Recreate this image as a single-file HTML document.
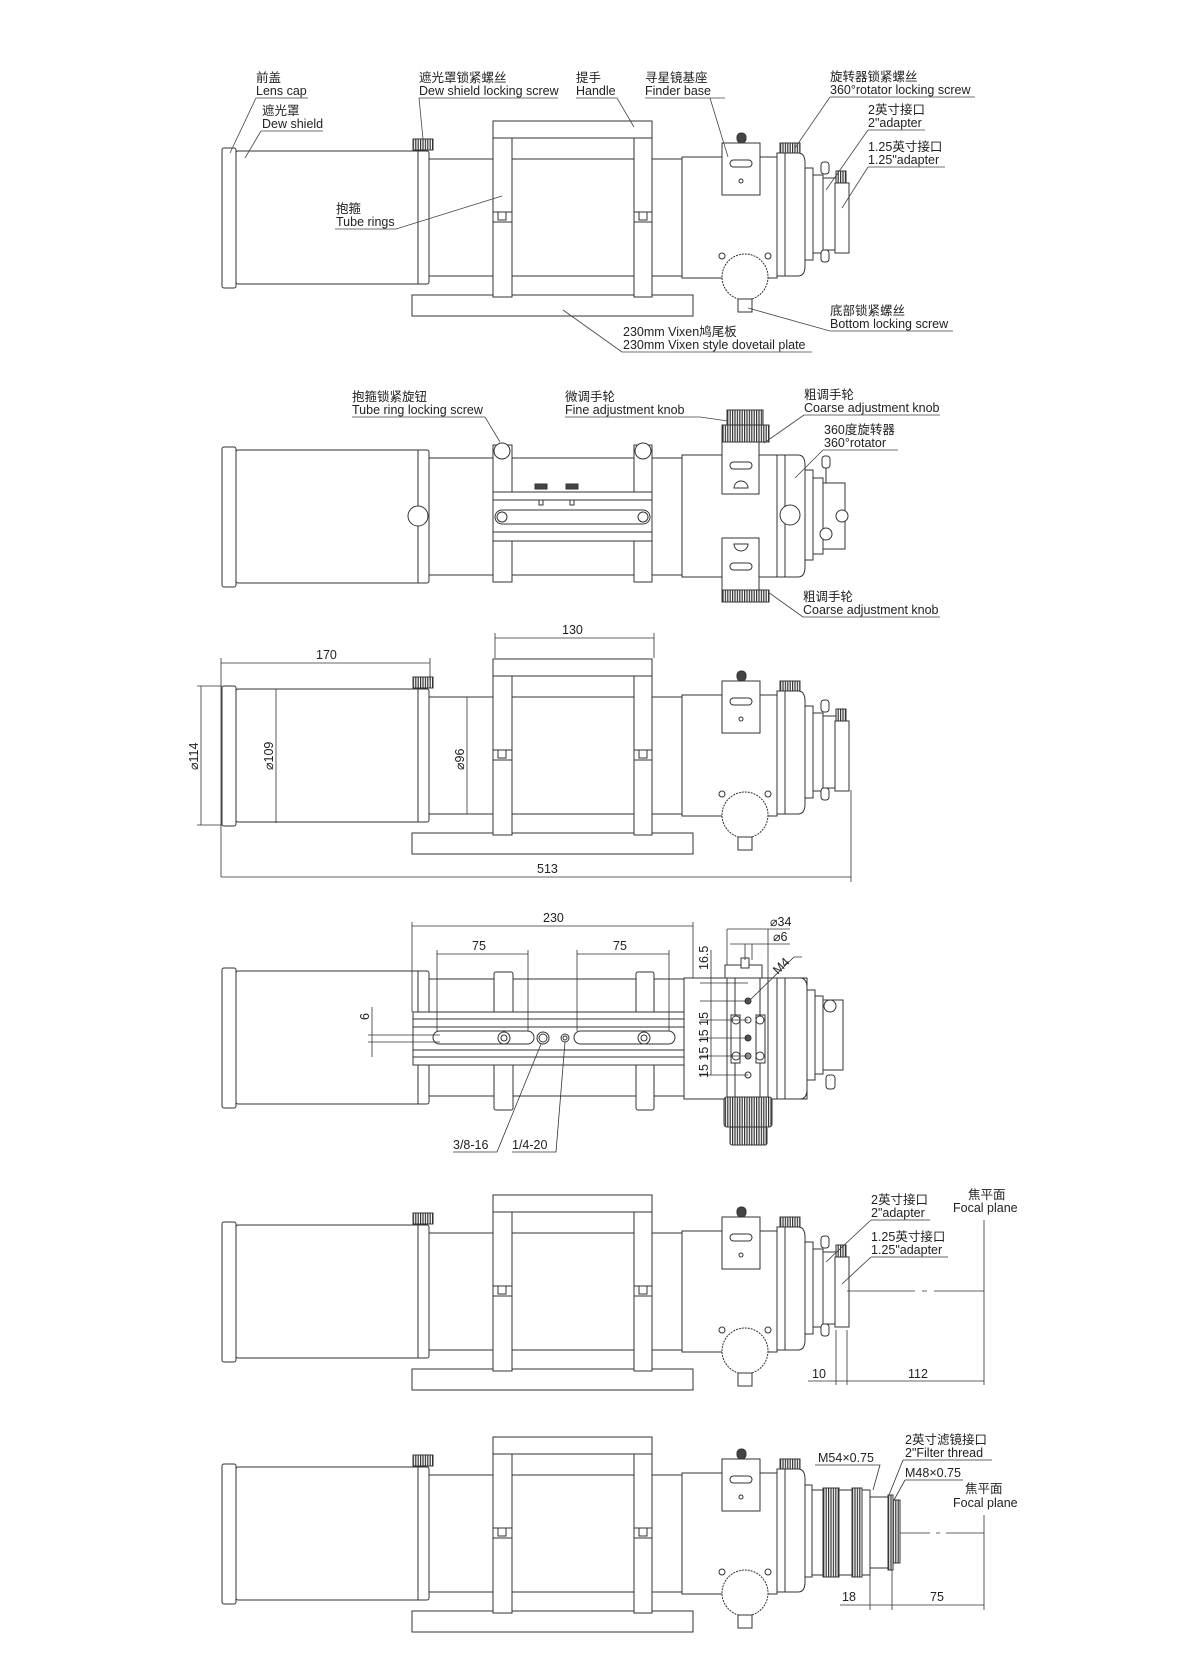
<!DOCTYPE html>
<html><head><meta charset="utf-8"><style>
html,body{margin:0;padding:0;background:#fff}
svg{display:block}
text{font-family:"Liberation Sans","Noto Sans CJK SC",sans-serif;font-size:12.5px;fill:#222}
.c{font-size:12.5px}
</style></head><body>
<svg width="1200" height="1680" viewBox="0 0 1200 1680" xmlns="http://www.w3.org/2000/svg">
<defs>
<pattern id="kn" width="2.4" height="4" patternUnits="userSpaceOnUse"><rect width="2.4" height="4" fill="#fff"/><rect width="1.2" height="4" fill="#333"/></pattern>
<g id="T" fill="#fff" stroke="#333" stroke-width="1">
 <line x1="429" y1="159" x2="684" y2="159"/><line x1="429" y1="276" x2="684" y2="276"/>
 <rect x="222" y="148" width="14" height="140" rx="2"/>
 <rect x="236" y="151" width="193" height="133" rx="2"/>
 <line x1="418" y1="151" x2="418" y2="284"/>
 <rect x="413" y="139" width="20" height="11" fill="url(#kn)"/>
 <rect x="412" y="295" width="281" height="21"/>
 <rect x="493" y="121" width="159" height="17"/>
 <rect x="493" y="138" width="19" height="159"/>
 <rect x="634" y="138" width="18" height="159"/>
 <path d="M493 212h19M493 222h19M498 212v8h8v-8M634 212h18M634 222h18M639 212v8h8v-8" fill="none"/>
 <rect x="682" y="157" width="95" height="121"/>
 <path d="M777 153H798Q805 153 805 163V266Q805 276 798 276H777Z"/>
 <line x1="785" y1="153" x2="785" y2="276"/>
 <rect x="722" y="143" width="38" height="52"/>
 <rect x="730" y="160" width="22" height="7" rx="3.5"/>
 <circle cx="741" cy="181" r="2"/>
 <rect x="737" y="133" width="9" height="10" rx="4" fill="#444"/>
 <rect x="780" y="143" width="20" height="10" fill="url(#kn)"/>
 <circle cx="745" cy="277" r="23" stroke-dasharray="2 1"/>
 <rect x="738" y="299" width="14" height="13"/>
 <circle cx="722" cy="256" r="3"/><circle cx="768" cy="256" r="3"/>
</g>
<g id="R" fill="#fff" stroke="#333" stroke-width="1">
 <rect x="805" y="168" width="8" height="92"/>
 <rect x="813" y="175" width="10" height="78"/>
 <rect x="823" y="178" width="13" height="72"/>
 <rect x="835" y="183" width="14" height="70"/>
 <rect x="821" y="162" width="8" height="12" rx="3"/>
 <rect x="821" y="250" width="8" height="12" rx="3"/>
 <rect x="836" y="171" width="10" height="12" fill="url(#kn)"/>
</g>
</defs>

<!-- ============ Drawing 1 ============ -->
<use href="#T"/><use href="#R"/>
<g fill="none" stroke="#444" stroke-width="0.8">
 <path d="M256 98H308M256 98L230 153"/>
 <path d="M261 131H323M261 131L245 158"/>
 <path d="M419 98H558M419 98L423 139"/>
 <path d="M576 98H617L634 127"/>
 <path d="M645 98H725M710 98L728 157"/>
 <path d="M830 97H975M830 97L795 148"/>
 <path d="M868 130H925M868 130L826 190"/>
 <path d="M868 167H945M868 167L842 208"/>
 <path d="M335 229H396L502 196"/>
 <path d="M830 331H953M830 331L748 308"/>
 <path d="M622 352H812M622 352L563 310"/>
</g>
<text x="256" y="82">前盖</text><text x="256" y="95">Lens cap</text>
<text x="262" y="115">遮光罩</text><text x="262" y="128">Dew shield</text>
<text x="419" y="82">遮光罩锁紧螺丝</text><text x="419" y="95">Dew shield locking screw</text>
<text x="576" y="82">提手</text><text x="576" y="95">Handle</text>
<text x="645" y="82">寻星镜基座</text><text x="645" y="95">Finder base</text>
<text x="830" y="81">旋转器锁紧螺丝</text><text x="830" y="94">360°rotator locking screw</text>
<text x="868" y="114">2英寸接口</text><text x="868" y="127">2"adapter</text>
<text x="868" y="151">1.25英寸接口</text><text x="868" y="164">1.25"adapter</text>
<text x="336" y="213">抱箍</text><text x="336" y="226">Tube rings</text>
<text x="830" y="315">底部锁紧螺丝</text><text x="830" y="328">Bottom locking screw</text>
<text x="623" y="336">230mm Vixen鸠尾板</text><text x="623" y="349">230mm Vixen style dovetail plate</text>

<!-- ============ Drawing 2 ============ -->
<g fill="#fff" stroke="#333" stroke-width="1">
 <line x1="429" y1="458" x2="684" y2="458"/><line x1="429" y1="575" x2="684" y2="575"/>
 <rect x="222" y="447" width="14" height="140" rx="2"/>
 <rect x="236" y="450" width="193" height="133" rx="2"/>
 <line x1="418" y1="450" x2="418" y2="583"/>
 <circle cx="418" cy="516" r="10"/>
 <rect x="493" y="445" width="19" height="137"/>
 <rect x="634" y="445" width="18" height="137"/>
 <circle cx="502" cy="451" r="8"/><circle cx="643" cy="451" r="8"/>
 <rect x="493" y="492" width="159" height="49"/>
 <line x1="493" y1="500" x2="652" y2="500"/><line x1="493" y1="532" x2="652" y2="532"/>
 <rect x="495" y="510" width="155" height="14" rx="7"/>
 <circle cx="502" cy="517" r="5"/><circle cx="643" cy="517" r="5"/>
 <rect x="535" y="484" width="12" height="5" fill="#444"/><rect x="539" y="500" width="4" height="5"/>
 <rect x="566" y="484" width="12" height="5" fill="#444"/><rect x="570" y="500" width="4" height="5"/>
 <rect x="682" y="455" width="95" height="122"/>
 <path d="M777 455H798Q805 455 805 465V567Q805 577 798 577H777Z"/>
 <line x1="785" y1="455" x2="785" y2="577"/>
 <circle cx="790" cy="515" r="10"/>
 <rect x="805" y="470" width="8" height="90"/>
 <rect x="813" y="478" width="10" height="76"/>
 <rect x="823" y="483" width="22" height="66"/>
 <circle cx="842" cy="516" r="6"/><circle cx="826" cy="534" r="6"/>
 <rect x="822" y="456" width="8" height="12" rx="3"/><line x1="826" y1="468" x2="826" y2="483"/>
 <rect x="727" y="410" width="36" height="15" fill="url(#kn)"/>
 <rect x="722" y="425" width="47" height="17" fill="url(#kn)"/>
 <rect x="722" y="442" width="37" height="52"/>
 <rect x="730" y="462" width="22" height="7" rx="3.5"/>
 <path d="M734 488a7 7 0 0 1 14 0z"/>
 <rect x="722" y="538" width="37" height="52"/>
 <rect x="730" y="563" width="22" height="7" rx="3.5"/>
 <path d="M734 544a7 7 0 0 0 14 0z"/>
 <rect x="722" y="590" width="47" height="12" fill="url(#kn)"/>
</g>
<g fill="none" stroke="#444" stroke-width="0.8">
 <path d="M352 417H485L500 442"/>
 <path d="M565 417H700L728 421"/>
 <path d="M804 415H940M804 415L764 443"/>
 <path d="M823 450H898M823 450L795 478"/>
 <path d="M803 617H940M803 617L768 592"/>
</g>
<text x="352" y="401">抱箍锁紧旋钮</text><text x="352" y="414">Tube ring locking screw</text>
<text x="565" y="401">微调手轮</text><text x="565" y="414">Fine adjustment knob</text>
<text x="804" y="399">粗调手轮</text><text x="804" y="412">Coarse adjustment knob</text>
<text x="824" y="434">360度旋转器</text><text x="824" y="447">360°rotator</text>
<text x="803" y="601">粗调手轮</text><text x="803" y="614">Coarse adjustment knob</text>

<!-- ============ Drawing 3 ============ -->
<g transform="translate(0,538)"><use href="#T"/><use href="#R"/></g>
<g fill="none" stroke="#333" stroke-width="0.8">
 <path d="M221 663H430M221 658V877M430 658V680"/>
 <path d="M495 638H654M495 633V658M654 633V658"/>
 <path d="M197 686H222M197 825H222M201 686V825"/>
 <path d="M276 689V823"/>
 <path d="M467 697V814"/>
 <path d="M221 877H851M851 790V882"/>
</g>
<text x="316" y="659">170</text>
<text x="562" y="634">130</text>
<text x="537" y="873">513</text>
<text transform="translate(198,770) rotate(-90)">⌀114</text>
<text transform="translate(273,770) rotate(-90)">⌀109</text>
<text transform="translate(464,770) rotate(-90)">⌀96</text>

<!-- ============ Drawing 4 ============ -->
<g fill="#fff" stroke="#333" stroke-width="1">
 <line x1="429" y1="979" x2="684" y2="979"/><line x1="429" y1="1096" x2="684" y2="1096"/>
 <rect x="222" y="968" width="14" height="140" rx="2"/>
 <rect x="236" y="971" width="193" height="133" rx="2"/>
 <line x1="418" y1="971" x2="418" y2="1104"/>
 <rect x="494" y="972" width="19" height="138" rx="2"/>
 <rect x="636" y="972" width="18" height="138" rx="2"/>
 <rect x="413" y="1012" width="282" height="53"/>
 <path d="M413 1019H695M413 1027H695M413 1050H695M413 1057H695" fill="none"/>
 <rect x="433" y="1031" width="101" height="13" rx="6.5"/>
 <rect x="574" y="1031" width="101" height="13" rx="6.5"/>
 <circle cx="504" cy="1038" r="6"/><circle cx="504" cy="1038" r="3"/>
 <circle cx="644" cy="1038" r="6"/><circle cx="644" cy="1038" r="3"/>
 <circle cx="543" cy="1038" r="6"/><circle cx="543" cy="1038" r="4"/>
 <circle cx="565" cy="1038" r="4"/><circle cx="565" cy="1038" r="2"/>
 <rect x="684" y="978" width="123" height="121"/>
 <path d="M785 978H800Q807 978 807 988V1089Q807 1099 800 1099H785Z"/>
 <line x1="777" y1="978" x2="777" y2="1099"/>
 <rect x="725" y="965" width="37" height="13"/>
 <rect x="741" y="958" width="8" height="10"/>
 <rect x="727" y="978" width="41" height="119"/>
 <line x1="735" y1="978" x2="735" y2="1097"/><line x1="760" y1="978" x2="760" y2="1097"/>
 <rect x="731" y="1015" width="9" height="48"/><rect x="756" y="1015" width="9" height="48"/>
 <circle cx="748" cy="1001" r="3" fill="#555"/><circle cx="748" cy="1020" r="3"/>
 <circle cx="748" cy="1038" r="3" fill="#555"/><circle cx="748" cy="1056" r="3" fill="#999"/>
 <circle cx="748" cy="1075" r="3"/>
 <circle cx="736" cy="1020" r="4"/><circle cx="760" cy="1020" r="4"/>
 <circle cx="736" cy="1056" r="4"/><circle cx="760" cy="1056" r="4"/>
 <rect x="724" y="1097" width="48" height="30" rx="3" fill="url(#kn)"/>
 <rect x="730" y="1127" width="37" height="18" rx="2" fill="url(#kn)"/>
 <rect x="807" y="990" width="8" height="90"/>
 <rect x="815" y="996" width="8" height="78"/>
 <rect x="823" y="1000" width="20" height="70"/>
 <circle cx="830" cy="1006" r="6"/>
 <rect x="826" y="1075" width="9" height="14" rx="3"/>
</g>
<g fill="none" stroke="#333" stroke-width="0.8">
 <path d="M412 926H693M412 922V1012M693 922V978"/>
 <path d="M437 954H528M437 950V1031M528 950V1031"/>
 <path d="M577 954H669M577 950V1031M669 950V1031"/>
 <path d="M372 1007V1057M368 1035H440M368 1042H440"/>
 <path d="M453 1152H497L541 1044M512 1152H556L565 1042"/>
 <path d="M711 950V1075M700 983H748M700 1001H748M700 1020H748M700 1038H748M700 1056H748M700 1075H748"/>
 <path d="M727 929H790M727 929V965M768 929V978M730 944H790M745 944V960M752 944V960"/>
 <path d="M750 1000L794 957H802"/>
</g>
<text x="543" y="922">230</text>
<text x="472" y="950">75</text><text x="613" y="950">75</text>
<text transform="translate(369,1020) rotate(-90)">6</text>
<text x="453" y="1149">3/8-16</text><text x="512" y="1149">1/4-20</text>
<text transform="translate(708,970) rotate(-90)">16.5</text>
<text transform="translate(708,1078) rotate(-90)">15 15 15 15</text>
<text x="770" y="926">⌀34</text><text x="773" y="941">⌀6</text>
<text transform="translate(778,975) rotate(-45)">M4</text>

<!-- ============ Drawing 5 ============ -->
<g transform="translate(0,1074)"><use href="#T"/><use href="#R"/></g>
<g fill="none" stroke="#333" stroke-width="0.8">
 <path d="M808 1381H984M836 1330V1385M847 1330V1385M984 1220V1385"/>
 <path d="M847 1291H915M922 1291H927M934 1291H984"/>
 <path d="M871 1220H930M871 1220L826 1262"/>
 <path d="M871 1257H948M871 1257L842 1284"/>
</g>
<text x="812" y="1378">10</text><text x="908" y="1378">112</text>
<text x="871" y="1204">2英寸接口</text><text x="871" y="1217">2"adapter</text>
<text x="871" y="1241">1.25英寸接口</text><text x="871" y="1254">1.25"adapter</text>
<text x="968" y="1199">焦平面</text><text x="953" y="1212">Focal plane</text>

<!-- ============ Drawing 6 ============ -->
<g transform="translate(0,1316)"><use href="#T"/></g>
<g fill="#fff" stroke="#333" stroke-width="1">
 <rect x="805" y="1485" width="7" height="92"/>
 <rect x="812" y="1490" width="58" height="85"/>
 <rect x="823" y="1488" width="16" height="89" fill="url(#kn)"/>
 <rect x="852" y="1488" width="10" height="89" fill="url(#kn)"/>
 <rect x="870" y="1497" width="18" height="71"/>
 <rect x="888" y="1495" width="5" height="75" fill="url(#kn)"/>
 <rect x="893" y="1500" width="7" height="63" fill="url(#kn)"/>
</g>
<g fill="none" stroke="#333" stroke-width="0.8">
 <path d="M840 1605H984M870 1570V1610M892 1570V1610M984 1515V1610"/>
 <path d="M900 1533H930M936 1533H940M946 1533H984"/>
 <path d="M815 1465H880L873 1490"/>
 <path d="M903 1460H992M903 1460L889 1495"/>
 <path d="M905 1480H963M905 1480L894 1500"/>
</g>
<text x="842" y="1601">18</text><text x="930" y="1601">75</text>
<text x="818" y="1462">M54×0.75</text>
<text x="905" y="1444">2英寸滤镜接口</text><text x="905" y="1457">2"Filter thread</text>
<text x="905" y="1477">M48×0.75</text>
<text x="965" y="1493">焦平面</text><text x="953" y="1507">Focal plane</text>
</svg>
</body></html>
